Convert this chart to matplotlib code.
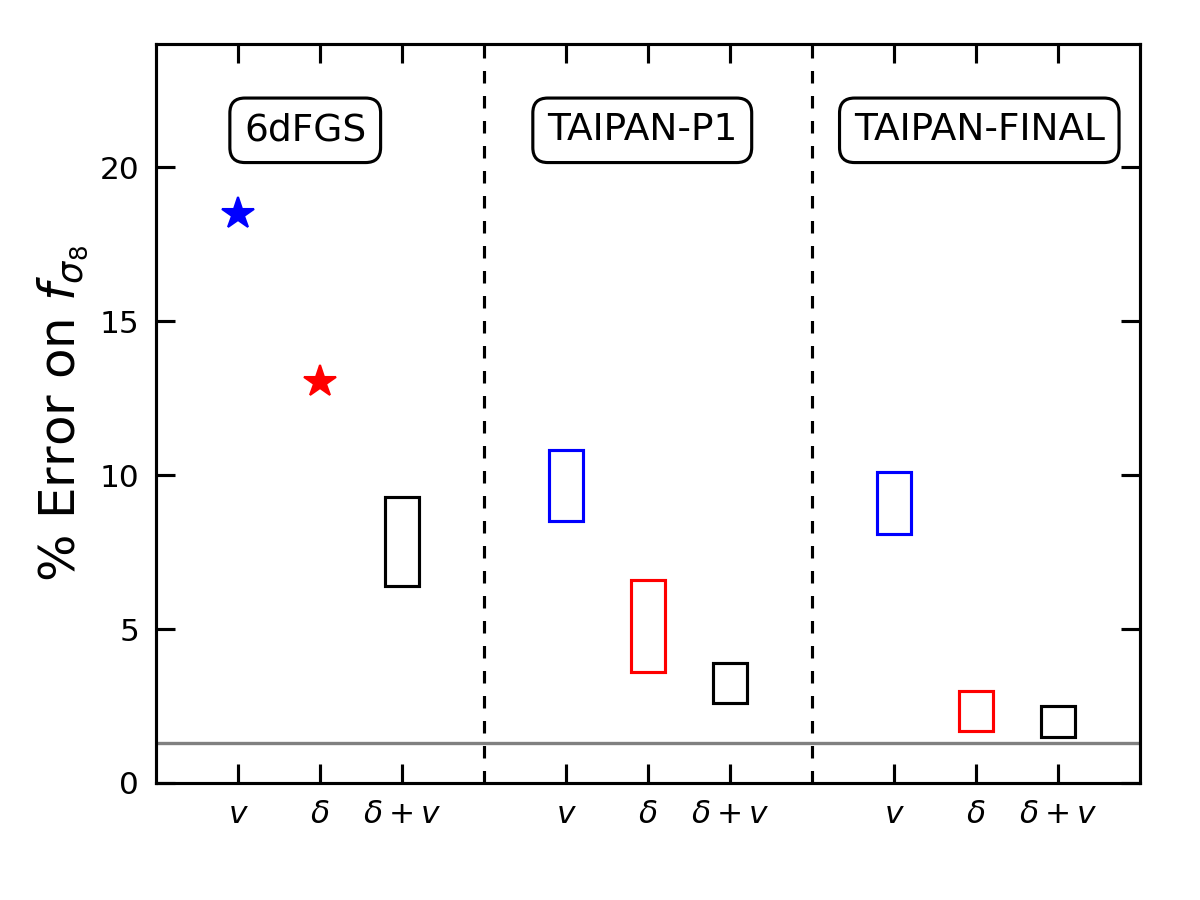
import matplotlib
matplotlib.use("Agg")
import matplotlib.pyplot as plt
from matplotlib.patches import Rectangle

# Data
tick_pos = [1, 2, 3, 5, 6, 7, 9, 10, 11]
tick_labels = [r"$v$", r"$\delta$", r"$\delta+v$"] * 3
surveys = ["6dFGS", "TAIPAN-P1", "TAIPAN-FINAL"]
survey_label_x = [1.82, 5.93, 10.04]
dividers = [4, 8]

star_x = [1, 2]
star_y = [18.47, 13.04]
star_colors = ["blue", "red"]

box_x = [3, 5, 6, 7, 9, 10, 11]
box_lo = [6.4, 8.5, 3.6, 2.6, 8.1, 1.7, 1.5]
box_hi = [9.3, 10.8, 6.6, 3.9, 10.1, 3.0, 2.5]
box_colors = ["black", "blue", "red", "black", "blue", "red", "black"]

ref_line = 1.3

fig = plt.figure(figsize=(8, 6), dpi=150)
ax = fig.add_axes([0.13, 0.13, 0.82, 0.821])

box_w = 0.42
for x, lo, hi, c in zip(box_x, box_lo, box_hi, box_colors):
    ax.add_patch(Rectangle((x - box_w / 2, lo), box_w, hi - lo,
                           fill=False, edgecolor=c, lw=1.5, zorder=3))

for x, y, c in zip(star_x, star_y, star_colors):
    ax.plot(x, y, marker="*", color=c, markersize=16, ls="none", zorder=4)

for d in dividers:
    ax.axvline(d, color="black", ls="--", lw=1.5, dashes=(4, 4))
ax.axhline(ref_line, color="gray", lw=1.6)

for s, x in zip(surveys, survey_label_x):
    ax.text(x, 21.2, s, ha="center", va="center", fontsize=18,
            bbox=dict(boxstyle="round,pad=0.38,rounding_size=0.4",
                      fc="white", ec="black", lw=1.5))

ax.set_xlim(0, 12)
ax.set_ylim(0, 24)
ax.set_xticks(tick_pos)
ax.set_xticklabels(tick_labels, fontsize=15)
ax.set_yticks([0, 5, 10, 15, 20])
ax.tick_params(axis="y", labelsize=15)
ax.tick_params(direction="in", length=9, width=1.5, top=True, right=True, pad=8)
for sp in ax.spines.values():
    sp.set_linewidth(1.5)
ax.set_ylabel(r"% Error on $f_{\sigma_8}$", fontsize=24, labelpad=4)

fig.savefig("out.png", dpi=150)
